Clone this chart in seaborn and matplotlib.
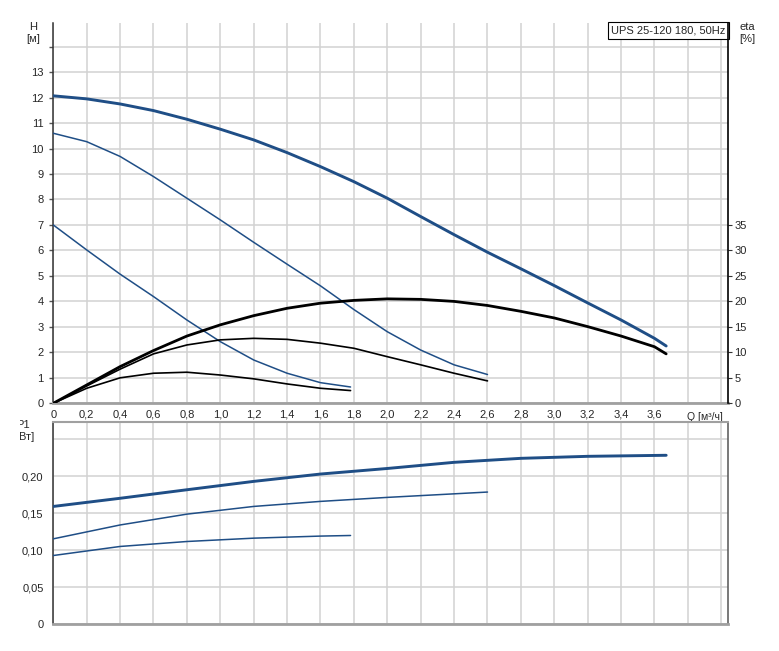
import matplotlib
matplotlib.use("Agg")
import matplotlib.pyplot as plt
from matplotlib.transforms import Bbox
import seaborn as sns
import numpy as np

# ---- data (Q in m3/h) ----
q_s3 = [0, 0.2, 0.4, 0.6, 0.8, 1.0, 1.2, 1.4, 1.6, 1.8, 2.0, 2.2, 2.4, 2.6, 2.8, 3.0, 3.2, 3.4, 3.6, 3.67]
h_s3 = [12.07, 11.95, 11.75, 11.49, 11.15, 10.76, 10.34, 9.84, 9.29, 8.70, 8.05, 7.33, 6.62, 5.93, 5.28, 4.62, 3.94, 3.27, 2.55, 2.25]
eta_s3 = [0, 3.6, 7.2, 10.35, 13.2, 15.4, 17.2, 18.65, 19.65, 20.2, 20.5, 20.4, 20.0, 19.2, 18.05, 16.75, 15.05, 13.2, 11.1, 9.7]

q_s2 = [0, 0.2, 0.4, 0.6, 0.8, 1.0, 1.2, 1.4, 1.6, 1.8, 2.0, 2.2, 2.4, 2.6]
h_s2 = [10.6, 10.27, 9.69, 8.9, 8.05, 7.2, 6.32, 5.46, 4.61, 3.68, 2.81, 2.09, 1.51, 1.13]
eta_s2 = [0, 3.4, 6.7, 9.7, 11.45, 12.45, 12.75, 12.55, 11.8, 10.8, 9.15, 7.55, 5.9, 4.4]

q_s1 = [0, 0.2, 0.4, 0.6, 0.8, 1.0, 1.2, 1.4, 1.6, 1.78]
h_s1 = [7.0, 6.02, 5.07, 4.19, 3.27, 2.42, 1.70, 1.18, 0.81, 0.64]
eta_s1 = [0, 2.95, 5.0, 5.9, 6.1, 5.55, 4.8, 3.8, 2.95, 2.5]

qp_s3 = [0, 0.4, 0.8, 1.2, 1.6, 2.0, 2.4, 2.8, 3.2, 3.67]
p_s3 = [0.159, 0.170, 0.1815, 0.1928, 0.2027, 0.2102, 0.2185, 0.2239, 0.2266, 0.228]
qp_s2 = [0, 0.4, 0.8, 1.2, 1.6, 2.0, 2.4, 2.6]
p_s2 = [0.1153, 0.134, 0.1486, 0.159, 0.1658, 0.1712, 0.176, 0.1784]
qp_s1 = [0, 0.4, 0.8, 1.2, 1.6, 1.78]
p_s1 = [0.0928, 0.105, 0.1117, 0.1162, 0.119, 0.1198]

title = "UPS 25-120 180, 50Hz"

sns.set_style("white")
plt.rcParams['font.family'] = ['Liberation Sans', 'DejaVu Sans']
plt.rcParams['font.size'] = 7.5

blue = "#1f4e86"
grid_c = "#d2d2d2"
W, H = 779, 651
fs = 7.5


def comma(v, nd):
    if v == 0:
        return "0"
    return f"{v:.{nd}f}".replace(".", ",")


fig = plt.figure(figsize=(W / 100, H / 100), dpi=100)
ax = fig.add_axes([53.3 / W, 1 - 403.3 / H, 675 / W, (403.3 - 22.7) / H])
axp = fig.add_axes([53.3 / W, 1 - 624.3 / H, 675 / W, (624.3 - 422.3) / H])

xmax = 4.042
xt = np.round(np.arange(0, 4.01, 0.2), 1)

# ---- top panel: head curves ----
ax.set_xlim(0, xmax)
ax.set_ylim(0, 14.94)
for q, h, lw in [(q_s3, h_s3, 2.1), (q_s2, h_s2, 1.1), (q_s1, h_s1, 1.1)]:
    sns.lineplot(x=q, y=h, ax=ax, color=blue, lw=lw, zorder=3)
ax.set_xticks(xt)
ax.set_xticklabels([comma(v, 1) if v < 3.7 else "" for v in xt])
ax.set_yticks(range(0, 15))
ax.set_yticklabels([str(v) if v <= 13 else "" for v in range(0, 15)])
ax.grid(True, color=grid_c, lw=1.1)
ax.set_axisbelow(True)
ax.tick_params(axis="y", length=3, pad=4, color="#555555", width=1, labelsize=fs + 0.5)
ax.tick_params(axis="x", length=3, pad=1.5, color="#999999", width=1, labelsize=fs + 0.5)
ax.spines["top"].set_visible(False)
ax.spines["right"].set_visible(False)
ax.spines["left"].set_color("#333333")
ax.spines["left"].set_linewidth(1.1)
ax.spines["bottom"].set_color("#a0a0a0")
ax.spines["bottom"].set_linewidth(2)
ax.text(3.9, -0.022, "Q [м³/ч]", transform=ax.get_xaxis_transform(),
        ha="center", va="top", fontsize=fs)
ax.annotate(title, xy=(1.0, 1.0), xycoords="axes fraction", xytext=(-3, -3),
            textcoords="offset pixels", ha="right", va="top", fontsize=fs + 0.5, zorder=10,
            bbox=dict(boxstyle="square,pad=0.3", facecolor="white", edgecolor="black", lw=0.8))

# ---- efficiency on twin axis ----
ax2 = ax.twinx()
ax2.set_ylim(0, 14.94 * 5)
for q, e, lw in [(q_s3, eta_s3, 2.0), (q_s2, eta_s2, 1.2), (q_s1, eta_s1, 1.2)]:
    sns.lineplot(x=q, y=e, ax=ax2, color="black", lw=lw, zorder=3)
ax2.set_yticks(range(0, 36, 5))
ax2.tick_params(axis="y", length=3, pad=1.5, color="#333333", labelsize=fs + 0.5)
for s in ["top", "left", "bottom"]:
    ax2.spines[s].set_visible(False)
ax2.spines["right"].set_color("black")
ax2.spines["right"].set_linewidth(1.2)
ax2.set_xlim(0, xmax)

fig.text(33 / W, 1 - 22 / H, "H\n[м]", ha="center", va="top", fontsize=fs + 0.5, linespacing=1.3)
fig.text(747 / W, 1 - 22 / H, "eta\n[%]", ha="center", va="top", fontsize=fs + 0.5, linespacing=1.3)

# ---- bottom panel: power ----
axp.set_xlim(0, xmax)
axp.set_ylim(0, 0.2725)
for q, p, lw in [(qp_s3, p_s3, 2.1), (qp_s2, p_s2, 1.1), (qp_s1, p_s1, 1.1)]:
    sns.lineplot(x=q, y=p, ax=axp, color=blue, lw=lw, zorder=3)
axp.set_xticks(xt)
axp.set_xticklabels([])
pt = [0, 0.05, 0.10, 0.15, 0.20, 0.25]
axp.set_yticks(pt)
axp.set_yticklabels([comma(v, 2) if v < 0.24 else "" for v in pt])
axp.grid(True, color=grid_c, lw=1.1)
axp.set_axisbelow(True)
axp.tick_params(axis="y", length=3, pad=4, color="#555555", labelsize=fs + 0.5)
axp.tick_params(axis="x", length=0)
axp.spines["left"].set_color("#333333")
axp.spines["left"].set_linewidth(1.1)
axp.spines["bottom"].set_color("#a0a0a0")
axp.spines["bottom"].set_linewidth(2)
axp.spines["top"].set_color("#a0a0a0")
axp.spines["top"].set_linewidth(1.5)
axp.spines["right"].set_color("#555555")
axp.spines["right"].set_linewidth(1.1)

# power label is cut off at the left in the reference
plab = fig.text(23 / W, 1 - 420 / H, "P1\n[кВт]", ha="center", va="top", fontsize=fs + 0.5, linespacing=1.3)
plab.set_clip_box(Bbox.from_extents(20, 0, 120, H))
plab.set_clip_on(True)

fig.savefig("out.png", dpi=100)
